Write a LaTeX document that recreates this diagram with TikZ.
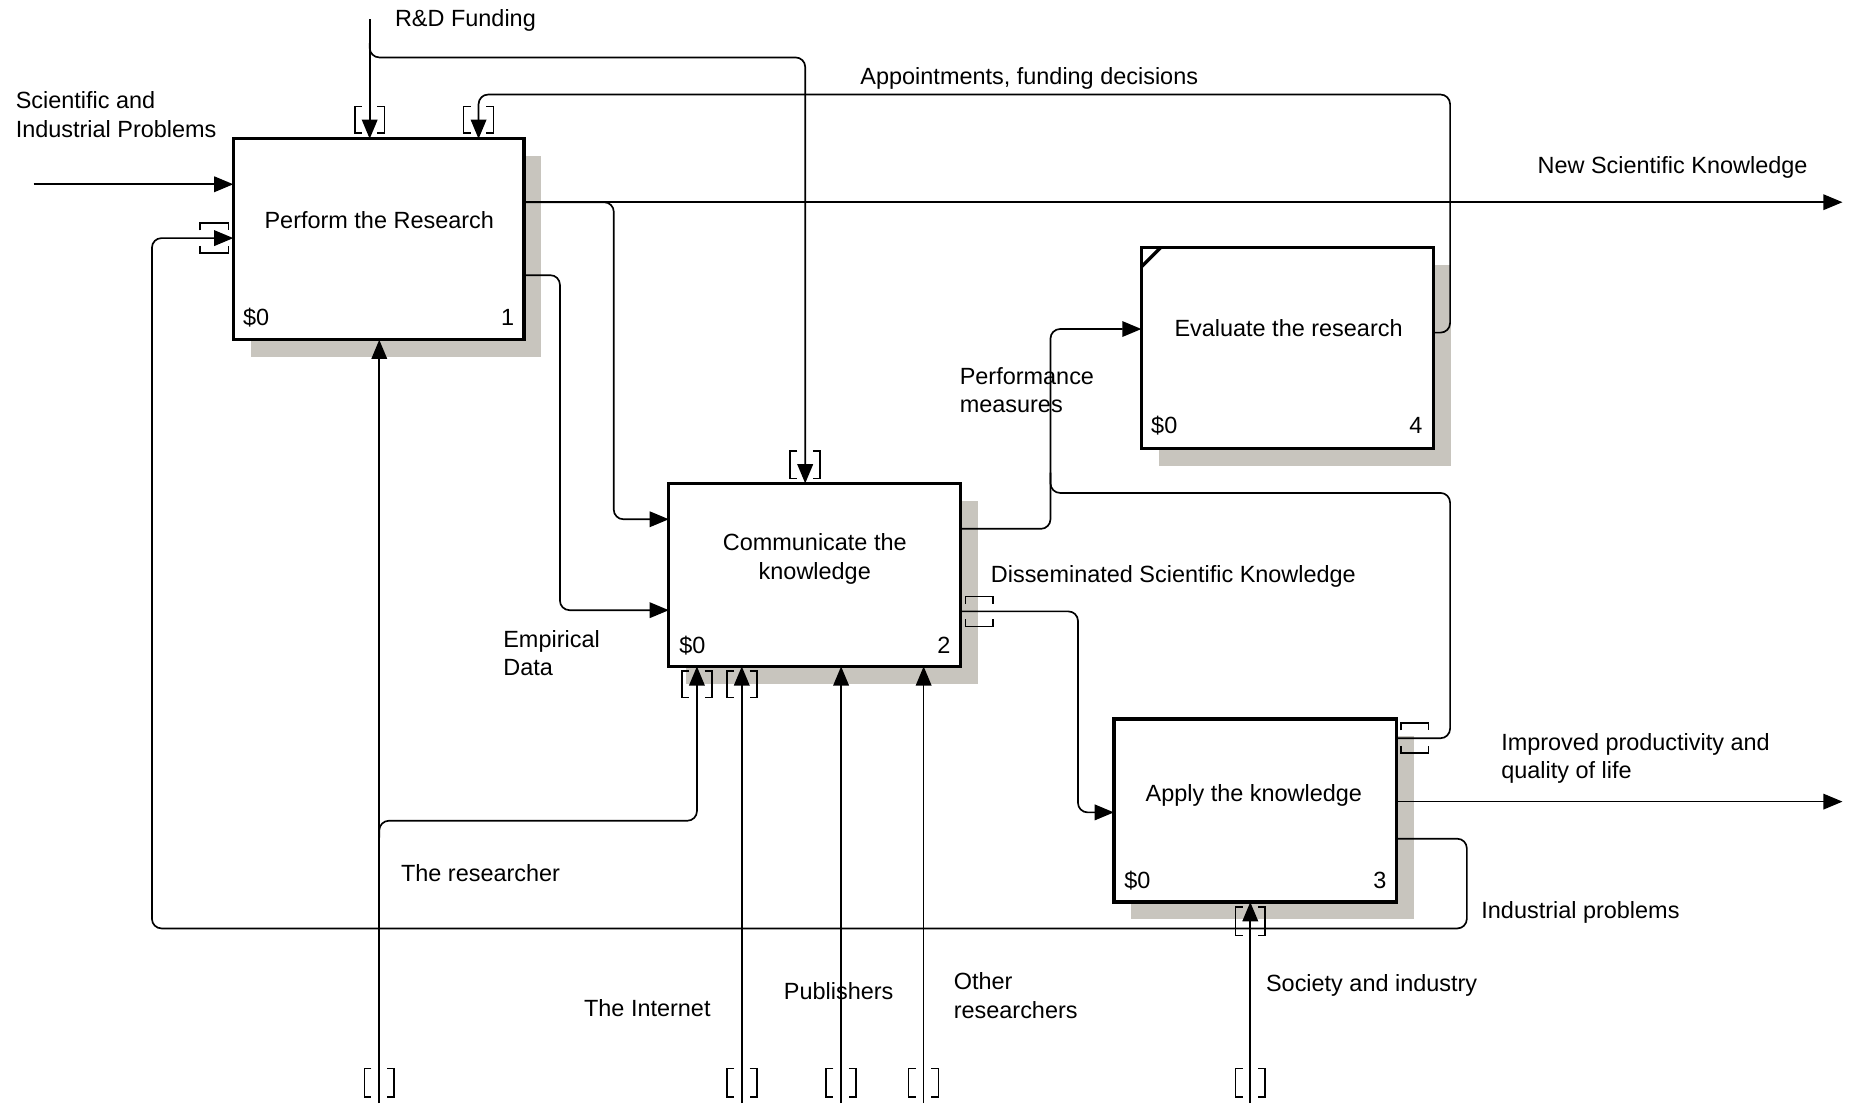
\documentclass[tikz,border=0pt]{standalone}
\usepackage{fontspec}
\setmainfont{Liberation Sans}
\usetikzlibrary{arrows.meta,shadows}
\definecolor{shadowc}{RGB}{200,197,190}
\newcommand\tunV[3]{%
  \draw[tun] (#1-6.5,#2) -- (#1-12.5,#2) -- (#1-12.5,#3) -- (#1-6.5,#3);
  \draw[tun] (#1+6.5,#2) -- (#1+12.5,#2) -- (#1+12.5,#3) -- (#1+6.5,#3);}
\newcommand\tunH[3]{%
  \draw[tun] (#1,#3-6.5) -- (#1,#3-12.5) -- (#2,#3-12.5) -- (#2,#3-6.5);
  \draw[tun] (#1,#3+6.5) -- (#1,#3+12.5) -- (#2,#3+12.5) -- (#2,#3+6.5);}
\begin{document}
\begin{tikzpicture}[x=1pt,y=-1pt,
  every node/.style={font=\fontsize{19.6}{24}\selectfont},
  procbox/.style={draw, line width=2.8pt, fill=white, inner sep=0pt, outer sep=0pt, anchor=north west,
    drop shadow={shadow xshift=14.5pt, shadow yshift=-14.5pt, fill=shadowc, opacity=1}},
  conn/.style={line width=1.4pt, rounded corners=8pt},
  arr/.style={-{Triangle[length=16pt,width=13pt]}},
  tun/.style={line width=1.3pt},
  lbl/.style={inner sep=0pt, anchor=base west},
  ctr/.style={inner sep=0pt, anchor=base, align=center},
  num/.style={inner sep=0pt, anchor=base east}]
\useasboundingbox[fill=white] (0,0) rectangle (1568,922);

% boxes
\node[procbox, minimum width=243pt, minimum height=168pt] (b1) at (195,116) {};
\node[procbox, minimum width=244pt, minimum height=153pt] (b2) at (559,404) {};
\node[procbox, minimum width=236pt, minimum height=153pt] (b3) at (931,601) {};
\node[procbox, minimum width=244pt, minimum height=168pt] (b4) at (954,207) {};
\draw[line width=2.8pt] ([yshift=-16pt]b4.north west) -- ([xshift=16pt]b4.north west);

% free ends and bends
\coordinate (sipS) at (28,154);
\coordinate (rdS) at (309,16);
\coordinate (rdJ) at (309,36);
\coordinate (rdC) at (673,48);
\coordinate (apR) at (1212,79);
\coordinate (nskE) at (1540,169);
\coordinate (nskC) at (513,434);
\coordinate (edC) at (468,510);
\coordinate (pmC) at (878,275);
\coordinate (pfC) at (1212,412);
\coordinate (pfJ) at (878,395);
\coordinate (dsC) at (901,679);
\coordinate (ipE) at (1540,670);
\coordinate (inC) at (1226,776);
\coordinate (inL) at (127,199);
\coordinate (reS) at (317,922);
\coordinate (reJ) at (317,700);
\coordinate (reC) at (582.5,686);
\coordinate (itS) at (620,922);
\coordinate (puS) at (703,922);
\coordinate (otS) at (772,922);
\coordinate (soS) at (1045,922);

% connectors
\draw[conn,arr] (sipS) -- ([yshift=-38pt]b1.north west);
\draw[conn,arr] (rdS) -- ([xshift=114pt]b1.north west);
\draw[conn,arr] (rdJ) |- (rdC) -- ([xshift=114pt]b2.north west);
\draw[conn,arr] ([yshift=-71pt]b4.north east) -| (apR) -| ([xshift=205pt]b1.north west);
\draw[conn,arr] ([yshift=-53pt]b1.north east) -- (nskE);
\draw[conn,arr] ([yshift=-53pt]b1.north east) -| (nskC) -- ([yshift=-30pt]b2.north west);
\draw[conn,arr] ([yshift=-114pt]b1.north east) -| (edC) -- ([yshift=-106pt]b2.north west);
\draw[conn,arr] ([yshift=-38pt]b2.north east) -| (pmC) -- ([yshift=-68pt]b4.north west);
\draw[conn] ([yshift=-16pt]b3.north east) -| (pfC) -| (pfJ);
\draw[conn,arr] ([yshift=-107pt]b2.north east) -| (dsC) -- ([yshift=-78pt]b3.north west);
\draw[conn,arr] ([yshift=-69pt]b3.north east) -- (ipE);
\draw[conn,arr] ([yshift=-100pt]b3.north east) -| (inC) -| (inL) -- ([yshift=-83pt]b1.north west);
\draw[conn,arr] (reS) -- ([xshift=122pt]b1.south west);
\draw[conn,arr] (reJ) |- (reC) -- ([xshift=23.5pt]b2.south west);
\draw[conn,arr] (itS) -- ([xshift=61pt]b2.south west);
\draw[conn,arr] (puS) -- ([xshift=144pt]b2.south west);
\draw[conn,arr] (otS) -- ([xshift=213pt]b2.south west);
\draw[conn,arr] (soS) -- ([xshift=114pt]b3.south west);

% tunnels
\tunV{309}{89}{111}
\tunV{400}{89}{111}
\tunV{673}{377}{400}
\tunH{167}{191}{199}
\tunH{807}{830}{511}
\tunH{1171}{1194}{617}
\tunV{582.5}{561}{583}
\tunV{620}{561}{583}
\tunV{1045}{758}{782}
\tunV{317}{893}{917}
\tunV{620}{893}{917}
\tunV{703}{893}{917}
\tunV{772}{893}{917}
\tunV{1045}{893}{917}

% box texts
\node[ctr] (x1) at (317,191) {Perform the Research};
\node[ctr] (x2) at (681,484) {Communicate the\\knowledge};
\node[ctr] (x3) at (1048,669.6) {Apply the knowledge};
\node[ctr] (x4) at (1077,281) {Evaluate the research};
\node[lbl] (c1) at (203,272) {\$0};
\node[num] (n1) at (430,272) {1};
\node[lbl] (c2) at (567.6,546) {\$0};
\node[num] (n2) at (794.6,546) {2};
\node[lbl] (c3) at (939.5,743) {\$0};
\node[num] (n3) at (1159,743) {3};
\node[lbl] (c4) at (962,362) {\$0};
\node[num] (n4) at (1189,362) {4};

% labels (multi-line nodes: base is the last line)
\node[lbl] (tRD) at (330,22) {R\&D Funding};
\node[lbl, align=left] (tSIP) at (13,115) {Scientific and\\Industrial Problems};
\node[lbl] (tAp) at (719,70.5) {Appointments, funding decisions};
\node[lbl] (tNSK) at (1285,145) {New Scientific Knowledge};
\node[lbl, align=left] (tPM) at (802,345) {Performance\\measures};
\node[lbl] (tDS) at (828,487) {Disseminated Scientific Knowledge};
\node[lbl, align=left] (tED) at (420.5,565) {Empirical\\Data};
\node[lbl, align=left] (tIP) at (1254.6,651) {Improved productivity and\\quality of life};
\node[lbl] (tIn) at (1238,767.7) {Industrial problems};
\node[lbl] (tSo) at (1058,829) {Society and industry};
\node[lbl] (tRe) at (335,737) {The researcher};
\node[lbl] (tIt) at (488,850) {The Internet};
\node[lbl] (tPu) at (655,835.5) {Publishers};
\node[lbl, align=left] (tOt) at (797,851) {Other\\researchers};
\end{tikzpicture}
\end{document}
